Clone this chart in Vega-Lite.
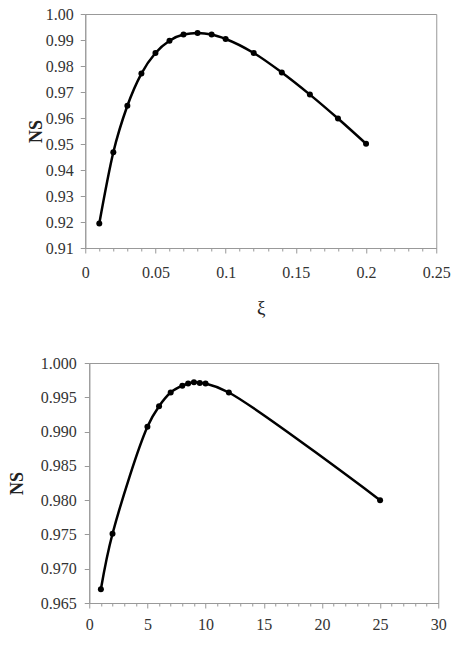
{
  "$schema": "https://vega.github.io/schema/vega-lite/v6.json",
  "background": "white",
  "padding": {"left": 7, "top": 5, "right": 5, "bottom": 5},
  "spacing": 36,
  "center": true,
  "datasets": {
    "top": [
      {"xi": 0.01, "ns": 0.9194},
      {"xi": 0.02, "ns": 0.9468},
      {"xi": 0.03, "ns": 0.9647},
      {"xi": 0.04, "ns": 0.9771},
      {"xi": 0.05, "ns": 0.985},
      {"xi": 0.06, "ns": 0.9897},
      {"xi": 0.07, "ns": 0.9921},
      {"xi": 0.08, "ns": 0.9927},
      {"xi": 0.09, "ns": 0.9921},
      {"xi": 0.1, "ns": 0.9904},
      {"xi": 0.12, "ns": 0.985},
      {"xi": 0.14, "ns": 0.9775},
      {"xi": 0.16, "ns": 0.969},
      {"xi": 0.18, "ns": 0.9598},
      {"xi": 0.2, "ns": 0.9501}
    ],
    "bottom": [
      {"k": 1, "ns": 0.967},
      {"k": 2, "ns": 0.9751},
      {"k": 5, "ns": 0.9907},
      {"k": 6, "ns": 0.9937},
      {"k": 7, "ns": 0.9957},
      {"k": 8, "ns": 0.9967},
      {"k": 8.5, "ns": 0.997},
      {"k": 9, "ns": 0.9972},
      {"k": 9.5, "ns": 0.9971},
      {"k": 10, "ns": 0.997},
      {"k": 12, "ns": 0.9957},
      {"k": 25, "ns": 0.98}
    ]
  },
  "vconcat": [
    {
      "width": 351,
      "height": 234,
      "data": {"name": "top"},
      "encoding": {
        "x": {
          "field": "xi", "type": "quantitative",
          "scale": {"domain": [0, 0.25], "nice": false, "zero": false},
          "axis": {
            "title": "ξ",
            "titleFontWeight": "normal",
            "titleFontSize": 19,
            "titlePadding": 18,
            "values": [0, 0.01, 0.02, 0.03, 0.04, 0.05, 0.06, 0.07, 0.08, 0.09, 0.1, 0.11, 0.12, 0.13, 0.14, 0.15, 0.16, 0.17, 0.18, 0.19, 0.2, 0.21, 0.22, 0.23, 0.24, 0.25],
            "labelExpr": "abs(datum.value*20 - round(datum.value*20)) < 0.001 ? format(datum.value, '~g') : ''",
            "tickSize": {"condition": {"test": "abs(datum.value*20 - round(datum.value*20)) < 0.001", "value": 5}, "value": 3},
            "labelPadding": 11,
            "labelOverlap": false
          }
        },
        "y": {
          "field": "ns", "type": "quantitative",
          "scale": {"domain": [0.91, 1.0], "nice": false, "zero": false},
          "axis": {
            "title": "NS",
            "titleFontWeight": "bold",
            "titleFontSize": 18,
            "titlePadding": 0,
            "values": [0.91, 0.92, 0.93, 0.94, 0.95, 0.96, 0.97, 0.98, 0.99, 1.0],
            "format": ".2f",
            "labelPadding": 7,
            "labelOverlap": false
          }
        }
      },
      "layer": [
        {"mark": {"type": "line", "interpolate": "monotone", "color": "black", "strokeWidth": 2.5}},
        {"mark": {"type": "point", "filled": true, "color": "black", "size": 36, "opacity": 1}}
      ]
    },
    {
      "width": 349,
      "height": 240,
      "data": {"name": "bottom"},
      "encoding": {
        "x": {
          "field": "k", "type": "quantitative",
          "scale": {"domain": [0, 30], "nice": false, "zero": false},
          "axis": {
            "title": null,
            "values": [0, 1, 2, 3, 4, 5, 6, 7, 8, 9, 10, 11, 12, 13, 14, 15, 16, 17, 18, 19, 20, 21, 22, 23, 24, 25, 26, 27, 28, 29, 30],
            "labelExpr": "datum.value % 5 == 0 ? format(datum.value, 'd') : ''",
            "tickSize": {"condition": {"test": "datum.value % 5 == 0", "value": 5}, "value": 3},
            "labelPadding": 8,
            "labelOverlap": false
          }
        },
        "y": {
          "field": "ns", "type": "quantitative",
          "scale": {"domain": [0.965, 1.0], "nice": false, "zero": false},
          "axis": {
            "title": "NS",
            "titleFontWeight": "bold",
            "titleFontSize": 18,
            "titlePadding": 14,
            "values": [0.965, 0.97, 0.975, 0.98, 0.985, 0.99, 0.995, 1.0],
            "format": ".3f",
            "labelPadding": 8,
            "labelOverlap": false
          }
        }
      },
      "layer": [
        {"mark": {"type": "line", "interpolate": "catmull-rom", "color": "black", "strokeWidth": 2.5}},
        {"mark": {"type": "point", "filled": true, "color": "black", "size": 36, "opacity": 1}}
      ]
    }
  ],
  "config": {
    "font": "Liberation Serif",
    "view": {"stroke": "#999", "strokeWidth": 1},
    "axis": {
      "grid": false,
      "labelFont": "Liberation Serif",
      "titleFont": "Liberation Serif",
      "labelFontSize": 16,
      "labelColor": "#333",
      "titleColor": "#222",
      "domainColor": "#999",
      "tickColor": "#999",
      "labelFlush": false,
      "labelOverlap": false
    }
  }
}
